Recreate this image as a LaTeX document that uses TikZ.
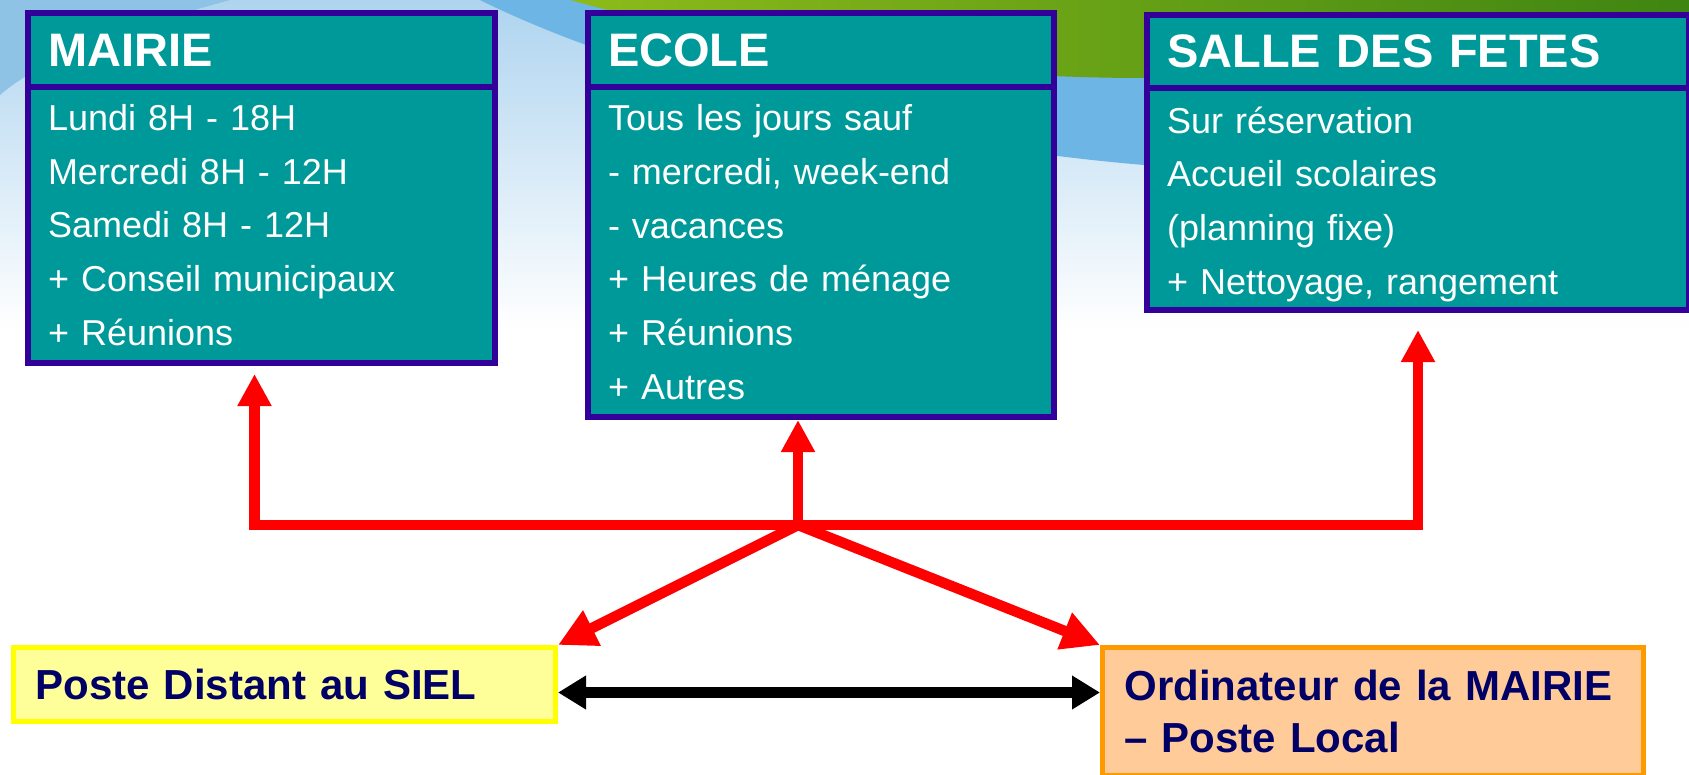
\documentclass[tikz,border=0pt]{standalone}
\usepackage{fontspec}
\setmainfont{Liberation Sans}
\usepackage{tikz}
\usetikzlibrary{positioning, arrows.meta}
\definecolor{boxfill}{HTML}{009999}
\definecolor{boxline}{HTML}{330099}
\definecolor{postefill}{HTML}{FFFF99}
\definecolor{posteline}{HTML}{FFFF00}
\definecolor{ordifill}{HTML}{FFCC99}
\definecolor{ordiline}{HTML}{FF9900}
\definecolor{navytext}{HTML}{000066}
\definecolor{skytop}{HTML}{AED4EF}
\definecolor{skymid}{HTML}{8EC3E6}
\definecolor{skyband}{HTML}{6DB5E5}
\definecolor{leafleft}{HTML}{8DBB1A}
\definecolor{leafright}{HTML}{3F8512}
\tikzstyle{headbox} = [rectangle, draw=boxline, fill=boxfill, line width=6pt, outer sep=0pt, inner xsep=20pt, inner ysep=0pt, align=left, text=white, font=\fontsize{47}{50}\selectfont\bfseries]
\tikzstyle{bodybox} = [rectangle, draw=boxline, fill=boxfill, line width=6pt, outer sep=0pt, inner xsep=20pt, inner ysep=0pt, align=left, text=white, font=\fontsize{36}{53.7}\selectfont]
\tikzstyle{postebox} = [rectangle, draw=posteline, fill=postefill, line width=5pt, inner xsep=22pt, inner ysep=0pt, minimum height=74pt, align=left, text=navytext, font=\fontsize{42}{52}\selectfont\bfseries]
\tikzstyle{ordibox} = [rectangle, draw=ordiline, fill=ordifill, line width=5pt, inner xsep=22pt, inner ysep=0pt, minimum height=128pt, align=left, text=navytext, font=\fontsize{42}{52}\selectfont\bfseries]
\tikzstyle{redarrow} = [line width=10.5pt, draw=red, -{Triangle[width=32pt,length=32pt]}]
\tikzstyle{slantarrow} = [line width=10.5pt, draw=red, -{Triangle[width=37pt,length=38pt]}]
\tikzstyle{linkarrow} = [line width=10.5pt, draw=black, {Triangle[width=32pt,length=28pt]}-{Triangle[width=32pt,length=28pt]}]

\begin{document}
\begin{tikzpicture}[x=1pt, y=-1pt]
	\useasboundingbox (0,0) rectangle (1689,774);

	% background
	\shade[top color=skytop, bottom color=white] (0,0) rectangle (1689,330);
	\fill[skymid] (0,0) -- (230,0) .. controls (120,30) and (40,60) .. (0,95) -- cycle;
	\fill[skyband] (480,0) .. controls (600,60) and (850,140) .. (1144,165) -- (1689,165) -- (1689,0) -- cycle;
	\shade[left color=leafleft, right color=leafright] (570,0) .. controls (750,50) and (950,78) .. (1144,78) -- (1689,60) -- (1689,0) -- cycle;

	\node (mairieh) [headbox, anchor=north west, text width=427pt, minimum height=74pt] at (28,13) {MAIRIE};
	\node (mairieb) [bodybox, below=0pt of mairieh, text width=427pt, minimum height=276pt] {Lundi 8H - 18H\\Mercredi 8H - 12H\\Samedi 8H - 12H\\+ Conseil municipaux\\+ Réunions};

	\node (ecoleh) [headbox, anchor=north west, text width=426pt, minimum height=74pt] at (588,13) {ECOLE};
	\node (ecoleb) [bodybox, below=0pt of ecoleh, text width=426pt, minimum height=330pt] {Tous les jours sauf\\- mercredi, week-end\\- vacances\\+ Heures de ménage\\+ Réunions\\+ Autres};

	\node (salleh) [headbox, anchor=north west, text width=502pt, minimum height=73pt] at (1147,15) {SALLE DES FETES};
	\node (salleb) [bodybox, below=0pt of salleh, text width=502pt, minimum height=222pt] {\rule{0pt}{37pt}Sur réservation\\Accueil scolaires\\(planning fixe)\\+ Nettoyage, rangement};

	\node (poste) [postebox, anchor=north west, text width=498pt] at (11,645) {Poste Distant au SIEL};
	\node (ordi) [ordibox, anchor=north west, text width=497pt] at (1100,645) {Ordinateur de la MAIRIE\\– Poste Local};

	\coordinate (jn) at (798,525);
	\draw [redarrow, shorten >=11pt] (jn) -| ([xshift=-7pt]mairieb.south);
	\draw [redarrow, shorten >=20pt] (jn) -| (salleb.south);
	\draw [redarrow, shorten >=3pt] (jn) -- (jn |- ecoleb.south);
	\draw [slantarrow] (jn) -- (poste.north east);
	\draw [slantarrow] (jn) -- (ordi.north west);
	\draw [linkarrow] ([yshift=-8pt]poste.east) -- ([yshift=-8pt]poste.east -| ordi.west);

\end{tikzpicture}
\end{document}
